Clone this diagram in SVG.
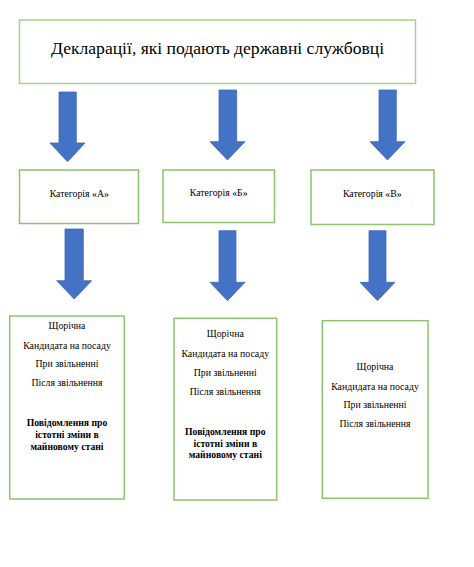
<svg xmlns="http://www.w3.org/2000/svg" width="474" height="567" viewBox="0 0 474 567">
<style>
.box{fill:#fff;stroke:#8DC26F;stroke-width:1.5}
.top{fill:#fff;stroke:#A5D18A;stroke-width:1.5}
.arr{fill:#4472C4;stroke:#3F69B5;stroke-width:0.8}
.t{font-family:'Liberation Serif','Times New Roman',serif;fill:#000;text-anchor:middle}
.s{font-size:9.8px}
.b{font-size:9.7px;font-weight:bold}
</style>
<rect width="474" height="567" fill="#fff"/>
<g id="connectors">
<polygon class="arr" points="59,92 76.3,92 76.3,143 85,143 67.6,161.7 50,143 59,143"/>
<polygon class="arr" points="219,90 236.7,90 236.7,141.7 245,141.7 227.5,160 210,141.7 219,141.7"/>
<polygon class="arr" points="379,90 396.3,90 396.3,141.7 405,141.7 387.5,160 370,141.7 379,141.7"/>
<polygon class="arr" points="65,229 83.3,229 83.3,280.7 91.7,280.7 74.2,299 56.7,280.7 65,280.7"/>
<polygon class="arr" points="219,230.7 236,230.7 236,282.3 245,282.3 227.5,300.7 210,282.3 219,282.3"/>
<polygon class="arr" points="369,230.7 386,230.7 386,282.3 395,282.3 377.5,300.7 360,282.3 369,282.3"/>
</g>
<g id="root">
<rect class="top" x="19.5" y="20" width="396" height="63.5"/>
<text class="t" x="217.5" y="53.5" font-size="17.6">Декларації, які подають державні службовці</text>
</g>
<g id="catA">
<rect class="box" x="19.5" y="170" width="119" height="53.5"/>
<text class="t s" x="79.3" y="197">Категорія «А»</text>
</g>
<g id="catB">
<rect class="box" x="163" y="170" width="111.5" height="52.5"/>
<text class="t s" x="218.7" y="196">Категорія «Б»</text>
</g>
<g id="catC">
<rect class="box" x="311" y="170" width="123" height="54.5"/>
<text class="t s" x="372.3" y="197">Категорія «В»</text>
</g>
<g id="listA">
<rect class="box" x="9.7" y="316" width="114.6" height="183"/>
<text class="t s" x="67" y="328.5">Щорічна</text>
<text class="t s" x="67" y="348.5">Кандидата на посаду</text>
<text class="t s" x="67" y="367">При звільненні</text>
<text class="t s" x="67" y="386">Після звільнення</text>
<text class="t b" x="67" y="426">Повідомлення про</text>
<text class="t b" x="67" y="438">істотні зміни в</text>
<text class="t b" x="67" y="449.5">майновому стані</text>
</g>
<g id="listB">
<rect class="box" x="174" y="318.3" width="102.7" height="181.7"/>
<text class="t s" x="225.3" y="337">Щорічна</text>
<text class="t s" x="225.3" y="357">Кандидата на посаду</text>
<text class="t s" x="225.3" y="375.5">При звільненні</text>
<text class="t s" x="225.3" y="394.5">Після звільнення</text>
<text class="t b" x="225.3" y="434.5">Повідомлення про</text>
<text class="t b" x="225.3" y="446.5">істотні зміни в</text>
<text class="t b" x="225.3" y="458">майновому стані</text>
</g>
<g id="listC">
<rect class="box" x="322.3" y="320.7" width="105.7" height="177.6"/>
<text class="t s" x="375" y="369.5">Щорічна</text>
<text class="t s" x="375" y="389.5">Кандидата на посаду</text>
<text class="t s" x="375" y="408">При звільненні</text>
<text class="t s" x="375" y="427">Після звільнення</text>
</g>
</svg>
